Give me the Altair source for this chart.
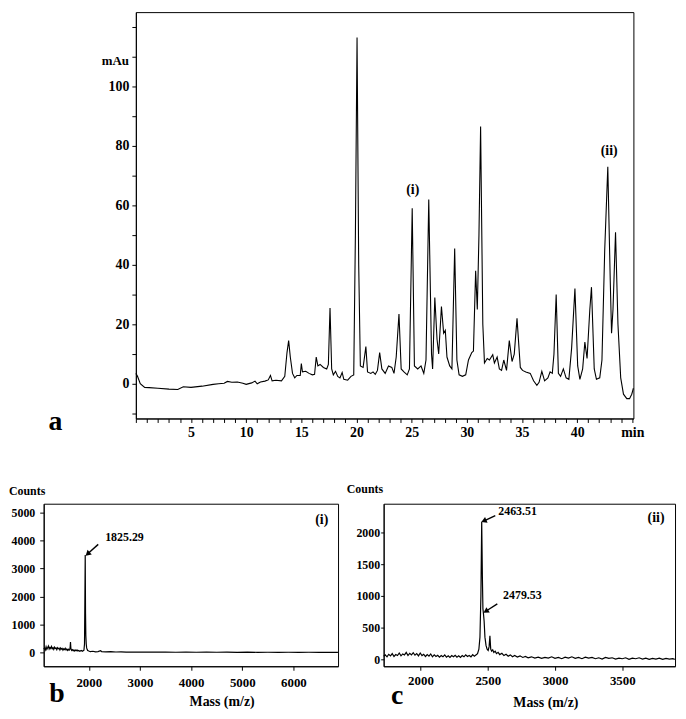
import altair as alt
import pandas as pd

FONT = "Liberation Serif"

# ---------------- Panel a: chromatogram (min, mAu) ----------------
chrom_time = [0.0, 0.15, 0.4, 0.8, 1.2, 2.0, 3.0, 3.8, 4.3, 5.0, 6.0, 7.0, 7.5, 8.0, 8.3, 8.7, 9.2, 9.7,
              10.0, 10.5, 10.8, 11.0, 11.3, 11.7, 12.0, 12.2, 12.35, 12.7, 13.2, 13.5, 13.7, 13.85, 14.0,
              14.2, 14.4, 14.6, 14.9, 15.0, 15.1, 15.4, 15.7, 16.0, 16.2, 16.35, 16.5, 16.7, 17.0, 17.3,
              17.45, 17.6, 17.75, 17.9, 18.1, 18.3, 18.5, 18.7, 18.85, 19.2, 19.5, 19.75, 19.9, 20.05,
              20.2, 20.35, 20.6, 20.85, 21.0, 21.3, 21.5, 21.7, 21.9, 22.1, 22.3, 22.6, 22.9, 23.2, 23.4,
              23.6, 23.85, 24.05, 24.3, 24.6, 24.8, 25.05, 25.25, 25.55, 25.85, 26.1, 26.3, 26.55, 26.8,
              26.9, 27.1, 27.3, 27.45, 27.7, 27.9, 28.05, 28.2, 28.45, 28.65, 28.9, 29.1, 29.3, 29.6,
              29.9, 30.15, 30.45, 30.6, 30.8, 30.95, 31.1, 31.25, 31.45, 31.6, 31.85, 32.05, 32.35, 32.5,
              32.75, 32.95, 33.15, 33.35, 33.6, 33.85, 34.1, 34.3, 34.55, 34.85, 35.05, 35.35, 35.75,
              36.05, 36.35, 36.55, 36.8, 37.05, 37.35, 37.55, 37.75, 37.9, 38.1, 38.3, 38.5, 38.75, 39.0,
              39.25, 39.5, 39.8, 40.05, 40.25, 40.5, 40.7, 40.9, 41.15, 41.3, 41.55, 41.75, 42.05, 42.25,
              42.5, 42.78, 43.0, 43.12, 43.25, 43.48, 43.7, 43.95, 44.2, 44.5, 44.75, 44.95, 45.1]
chrom_mau = [3.5, 2.5, 0.0, -1.2, -1.3, -1.5, -1.8, -1.9, -1.0, -1.2, -0.8, -0.2, 0.0, 0.2, 0.8, 0.5, 0.6, 0.2,
             -0.2, 0.3, 0.9, 0.0, 0.6, 0.9, 1.3, 2.8, 1.0, 1.2, 1.0, 2.5, 10.5, 14.5, 9.0,
             3.5, 2.0, 2.8, 2.8, 6.8, 4.0, 4.2, 3.5, 3.0, 3.2, 9.0, 6.0, 6.5, 5.5, 5.0,
             6.5, 25.5, 5.0, 3.0, 4.2, 2.5, 2.0, 3.8, 1.5, 1.2, 2.5, 3.0, 50.0, 116.5,
             40.0, 6.0, 5.5, 12.5, 4.0, 3.5, 4.0, 3.2, 4.5, 10.5, 5.0, 3.5, 6.0, 5.5, 3.5,
             9.0, 23.5, 5.0, 4.0, 3.0, 5.0, 59.0, 6.0, 5.0, 6.0, 3.5, 8.0, 62.0, 10.0,
             5.0, 29.0, 15.0, 10.0, 26.0, 17.0, 18.0, 9.0, 6.0, 5.0, 45.5, 8.0, 3.0, 2.5,
             3.0, 8.0, 10.5, 11.0, 38.0, 25.0, 50.0, 86.5, 20.0, 7.0, 8.5, 8.0, 9.8, 7.0,
             9.0, 5.0, 4.5, 8.0, 4.5, 14.5, 7.5, 10.0, 22.0, 5.5, 4.5, 4.0, 3.5,
             1.0, -0.5, 0.5, 4.2, 1.0, 2.0, 4.0, 3.5, 10.0, 30.0, 3.5, 2.5, 5.0, 2.0,
             1.5, 12.0, 32.0, 6.0, 1.5, 5.0, 14.0, 8.5, 25.0, 32.5, 5.0, 1.5, 2.0, 8.0,
             45.0, 73.0, 35.0, 17.0, 25.0, 51.0, 20.0, 2.0, -3.5, -5.0, -5.0, -3.5, -1.5]

a_note_text = ["(i)", "(ii)"]
a_note_t = [25.1, 42.9]
a_note_v = [65.1, 78.2]

# ---------------- Panel b: mass spectrum (i) ----------------
b_mass = [1120, 1135, 1150, 1165, 1180, 1195, 1210, 1225, 1240, 1255, 1270, 1285, 1300, 1315, 1330, 1345,
          1360, 1375, 1390, 1405, 1420, 1435, 1450, 1465, 1480, 1495, 1510, 1525, 1540, 1555, 1570, 1585,
          1600, 1615, 1628, 1636, 1642, 1650, 1665, 1680, 1695, 1710, 1725, 1740, 1755, 1770, 1785, 1800,
          1815, 1830, 1845, 1860, 1875, 1890, 1905, 1916, 1923, 1930, 1936, 1942, 1950, 1958, 1967, 1977,
          1990, 2010, 2030, 2080, 2130, 2180, 2230, 2250, 2330, 2430, 2530, 2630, 2730, 2830, 2930, 3100,
          3300, 3500, 3700, 3900, 4100, 4300, 4500, 4700, 4900, 5100, 5300, 5500, 5700, 5900, 6100, 6300,
          6500, 6700, 6870]
b_counts = [120, 160, 90, 200, 110, 170, 230, 120, 180, 140, 210, 130, 170, 110, 190, 140,
            160, 100, 170, 130, 150, 90, 160, 120, 140, 80, 130, 100, 150, 90, 120, 70,
            110, 80, 100, 200, 370, 140, 70, 100, 60, 90, 50, 80, 60, 90, 50, 70,
            40, 60, 50, 70, 40, 60, 80, 300, 1800, 3480, 1400, 600, 300, 160, 110, 70,
            60, 40, 30, 40, 20, 30, 60, 30, 20, 25, 15, 20, 10, 15, 10, 15,
            8, 12, 5, 10, 5, 10, 5, 8, 3, 8, 3, 6, 2, 6, 2, 5,
            0, 4, 0]

b_lab_text = ["1825.29"]
b_lab_x = [2320]
b_lab_y = [4113]
b_arrow_x = [2184]
b_arrow_y = [3865]
b_arrow_x2 = [1990]
b_arrow_y2 = [3546]
b_arrow_angle = [228]

# ---------------- Panel c: mass spectrum (ii) ----------------
c_mass = [1726, 1738, 1751, 1764, 1777, 1790, 1803, 1816, 1829, 1842, 1855, 1868, 1881, 1894, 1907, 1920,
          1933, 1946, 1959, 1972, 1985, 1998, 2011, 2024, 2037, 2050, 2063, 2076, 2089, 2102, 2115, 2128,
          2141, 2154, 2167, 2180, 2193, 2206, 2219, 2232, 2245, 2258, 2271, 2284, 2297, 2310, 2323, 2336,
          2349, 2362, 2375, 2388, 2400, 2412, 2424, 2434, 2442, 2449, 2455, 2460, 2464, 2468, 2473, 2479,
          2487, 2495, 2503, 2510, 2516, 2522, 2529, 2537, 2545, 2555, 2565, 2577, 2589, 2605, 2620, 2636,
          2652, 2668, 2684, 2700, 2720, 2740, 2760, 2780, 2800, 2825, 2850, 2875, 2900, 2925, 2950, 2975,
          3000, 3025, 3050, 3075, 3100, 3125, 3150, 3175, 3200, 3225, 3250, 3275, 3300, 3325, 3350, 3375,
          3400, 3425, 3450, 3475, 3500, 3525, 3550, 3575, 3600, 3625, 3650, 3675, 3700, 3725, 3750, 3775,
          3800, 3825, 3850, 3875, 3890]
c_counts = [50, 70, 40, 80, 55, 90, 45, 75, 60, 100, 55, 85, 70, 110, 60, 95,
            70, 105, 65, 90, 55, 100, 60, 80, 45, 75, 50, 85, 40, 70, 45, 65,
            35, 60, 40, 70, 35, 55, 30, 60, 40, 65, 35, 55, 30, 60, 40, 70,
            45, 60, 40, 75, 50, 70, 90, 160, 350, 1000, 2170, 1300, 800, 720, 600, 350,
            220, 160, 140, 200, 370, 160, 130, 150, 110, 130, 90, 110, 75, 95, 60, 80,
            50, 70, 40, 60, 35, 55, 30, 45, 25, 40, 20, 35, 15, 30, 20, 40,
            15, 30, 10, 35, 20, 40, 15, 30, 10, 35, 20, 30, 10, 25, 5, 30,
            15, 25, 5, 20, 10, 25, 0, 20, 10, 25, 5, 20, 0, 15, 5, 20,
            0, 15, 5, 10, 0]

c_lab_text = ["2463.51", "2479.53"]
c_lab_x = [2578, 2614]
c_lab_y = [2344, 1016]
c_arrow_x = [2556, 2571]
c_arrow_y = [2266, 875]
c_arrow_x2 = [2477, 2491]
c_arrow_y2 = [2188, 766]
c_arrow_angle = [246, 238]


def text_layer(df, size, align="center", baseline="middle", color="black", xs=None, ys=None, xa=None, ya=None):
    return alt.Chart(df).mark_text(
        font=FONT, fontWeight="bold", fontSize=size, align=align, baseline=baseline, color=color
    ).encode(
        x=alt.X("x:Q", scale=xs, axis=xa),
        y=alt.Y("y:Q", scale=ys, axis=ya),
        text="label:N",
    )


# ---------------- Build panel a ----------------
a_xs = alt.Scale(domain=[0, 45.1], nice=False, zero=False)
a_ys = alt.Scale(domain=[-11.67, 125], nice=False, zero=False)
a_xa = alt.Axis(values=list(range(0, 46)), title=None, grid=False, tickSize=4, labelPadding=3,
                labelFontSize=14, labelOverlap=False, labelFlush=False,
                labelExpr="datum.value % 5 == 0 && datum.value > 0 ? (datum.value == 45 ? 'min' : datum.label) : ''")
a_ya = alt.Axis(values=list(range(-10, 121, 10)), title=None, grid=False, tickSize=4, labelPadding=3,
                labelFontSize=14, labelOverlap=False,
                labelExpr="datum.value % 20 == 0 && datum.value >= 0 && datum.value <= 100 ? datum.label : ''")

a_df = pd.DataFrame({"x": chrom_time, "y": chrom_mau})
a_line = alt.Chart(a_df).mark_line(color="black", strokeWidth=1.1).encode(
    x=alt.X("x:Q", scale=a_xs, axis=a_xa),
    y=alt.Y("y:Q", scale=a_ys, axis=a_ya),
)
a_notes = text_layer(pd.DataFrame({"x": a_note_t, "y": a_note_v, "label": a_note_text}), 14,
                     xs=a_xs, ys=a_ys, xa=a_xa, ya=a_ya)
a_unit = text_layer(pd.DataFrame({"x": [-0.63], "y": [108.67], "label": ["mAu"]}), 13, align="right",
                    xs=a_xs, ys=a_ys, xa=a_xa, ya=a_ya)
a_letter = text_layer(pd.DataFrame({"x": [-7.28], "y": [-15.67], "label": ["a"]}), 28, baseline="alphabetic",
                      xs=a_xs, ys=a_ys, xa=a_xa, ya=a_ya)
panel_a = alt.layer(a_line, a_notes, a_unit, a_letter).properties(width=502, height=410)

# narrow blank column that shifts panel a to the right of the spectra's left edge
spacer = alt.Chart(pd.DataFrame({"v": [0]})).mark_rule(opacity=0).encode(
    x=alt.value(0.5), y=alt.value(100), y2=alt.value(101)
).properties(width=1, height=410, view=alt.ViewBackground(stroke="transparent"))

top_row = alt.hconcat(spacer, panel_a, spacing=2)


# ---------------- Build spectrum panels ----------------
def spectrum(mass, counts, xdom, ydom, xvals, yvals, lab, arrows, extras, w, h, ytick, ypad, xpad):
    xs = alt.Scale(domain=xdom, nice=False, zero=False)
    ys = alt.Scale(domain=ydom, nice=False, zero=False)
    xa = alt.Axis(values=xvals, format="d", title=None, grid=False, tickSize=4, labelPadding=xpad,
                  labelFontSize=13, labelOverlap=False)
    ya = alt.Axis(values=yvals, format="d", title=None, grid=False, tickSize=ytick, labelPadding=ypad,
                  labelFontSize=12, labelOverlap=False)
    df = pd.DataFrame({"x": mass, "y": counts})
    line = alt.Chart(df).mark_line(color="black", strokeWidth=1.2).encode(
        x=alt.X("x:Q", scale=xs, axis=xa), y=alt.Y("y:Q", scale=ys, axis=ya))
    adf = pd.DataFrame(arrows)
    shaft = alt.Chart(adf).mark_rule(color="black", strokeWidth=1.4).encode(
        x=alt.X("x:Q", scale=xs, axis=xa), y=alt.Y("y:Q", scale=ys, axis=ya), x2="x2:Q", y2="y2:Q")
    head = alt.Chart(adf).mark_point(shape="triangle", filled=True, color="black", size=40, opacity=1).encode(
        x=alt.X("x2:Q", scale=xs, axis=xa), y=alt.Y("y2:Q", scale=ys, axis=ya),
        angle=alt.Angle("angle:Q", scale=None))
    labs = text_layer(pd.DataFrame(lab), 12, align="left", xs=xs, ys=ys, xa=xa, ya=ya)
    layers = [line, shaft, head, labs]
    for df_e, size, align, baseline in extras:
        layers.append(text_layer(pd.DataFrame(df_e), size, align=align, baseline=baseline,
                                 xs=xs, ys=ys, xa=xa, ya=ya))
    return alt.layer(*layers).properties(width=w, height=h)


panel_b = spectrum(
    b_mass, b_counts, [1118, 6872], [-496, 5319],
    [2000, 3000, 4000, 5000, 6000], [0, 1000, 2000, 3000, 4000, 5000],
    {"x": b_lab_x, "y": b_lab_y, "label": b_lab_text},
    {"x": b_arrow_x, "y": b_arrow_y, "x2": b_arrow_x2, "y2": b_arrow_y2, "angle": b_arrow_angle},
    [
        ({"x": [6554], "y": [4752], "label": ["(i)"]}, 14, "center", "middle"),
        ({"x": [440], "y": [5780], "label": ["Counts"]}, 12, "left", "middle"),
        ({"x": [1380], "y": [-1490], "label": ["b"]}, 28, "center", "middle"),
        ({"x": [4606], "y": [-1780], "label": ["Mass (m/z)"]}, 14, "center", "middle"),
    ],
    297, 164, 4, 5, 6,
)

panel_c = spectrum(
    c_mass, c_counts, [1726, 3892], [-109, 2453],
    [2000, 2500, 3000, 3500], [0, 500, 1000, 1500, 2000],
    {"x": c_lab_x, "y": c_lab_y, "label": c_lab_text},
    {"x": c_arrow_x, "y": c_arrow_y, "x2": c_arrow_x2, "y2": c_arrow_y2, "angle": c_arrow_angle},
    [
        ({"x": [3751], "y": [2234], "label": ["(ii)"]}, 14, "center", "middle"),
        ({"x": [1452], "y": [2688], "label": ["Counts"]}, 12, "left", "middle"),
        ({"x": [1827], "y": [-580], "label": ["c"]}, 28, "center", "middle"),
        ({"x": [2932], "y": [-690], "label": ["Mass (m/z)"]}, 14, "center", "middle"),
    ],
    294, 164, 3, 1, 4,
)

bottom_row = alt.hconcat(panel_b, panel_c, spacing=5)

chart = alt.vconcat(top_row, bottom_row, spacing=42).properties(
    padding=0
).configure_view(
    stroke="black", strokeWidth=1
).configure_axis(
    labelFont=FONT, labelFontWeight="bold", labelColor="black",
    tickColor="black", domainColor="black", tickWidth=1, domainWidth=1
)

chart.save("out.html", embed_options={"renderer": "svg", "actions": False})
